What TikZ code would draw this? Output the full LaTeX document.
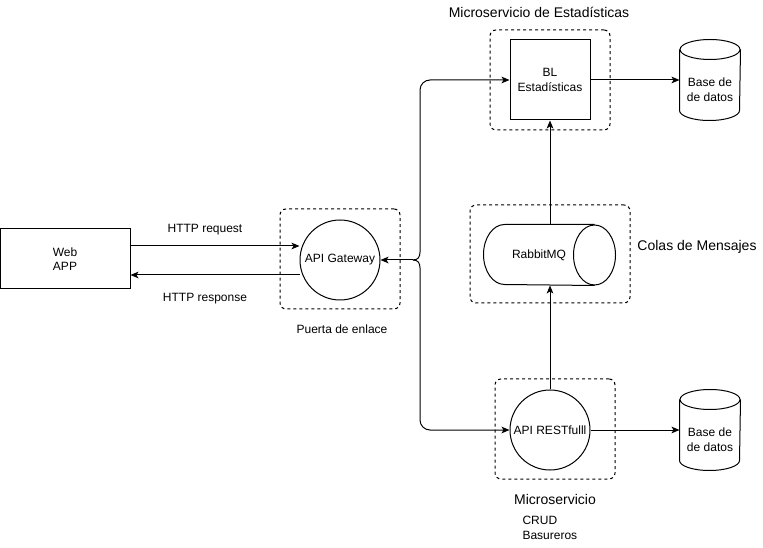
\documentclass[tikz,border=0pt]{standalone}
\usepackage{fontspec}
\setmainfont{Liberation Sans}
\usetikzlibrary{arrows.meta}
\tikzset{
  txt/.style={font=\fontsize{9}{11}\selectfont, align=center},
  title/.style={font=\fontsize{10.5}{12.6}\selectfont},
  box/.style={txt, draw, inner sep=0pt},
  shell/.style={txt, inner sep=0pt},
  group/.style={draw, dash pattern=on 2.25pt off 2.25pt, rounded corners=4.5pt, inner sep=0pt},
  conn/.style={-{Stealth[length=6pt,width=5pt,inset=1.5pt]}},
}
\begin{document}
\begin{tikzpicture}[x=0.75pt,y=-0.75pt,line width=0.75pt]
  \useasboundingbox (0,0) rectangle (763,548);
  % grupos
  \node[group, minimum width=90pt, minimum height=75pt] (gwg) at (340,259) {};
  \node[group, minimum width=90pt, minimum height=75pt] (stg) at (550,80) {};
  \node[group, minimum width=120pt, minimum height=73.5pt] (mqg) at (550,254) {};
  \node[group, minimum width=90pt, minimum height=75pt] (msg) at (555,429) {};
  % nodos
  \node[box, minimum width=97.5pt, minimum height=45pt] (web) at (65,259) {Web\\APP};
  \node[box, circle, minimum size=60pt] (gw) at (340,260) {API Gateway};
  \node[box, minimum size=60pt] (bl) at (550,80) {BL\\Estadísticas};
  \node[box, circle, minimum size=60pt] (api) at (550,430) {API RESTfulll};
  \node[shell, minimum width=82.5pt, minimum height=45pt] (mq) at (539,255) {RabbitMQ};
  \node[shell, minimum width=45pt, minimum height=45pt] (dbe) at (710,90) {Base de\\de datos};
  \node[shell, minimum width=45pt, minimum height=45pt] (dbc) at (710,440) {Base de\\de datos};
  \coordinate (fork) at (413,260);
  \coordinate (rq) at ([yshift=9.75pt]web.east);
  \coordinate (rs) at ([yshift=-12pt]web.east);
  % cilindros
  \draw ([xshift=15.75pt]mq.north west) -- (mq.north east)
    ([xshift=15.75pt]mq.north west) arc[start angle=90, end angle=270, x radius=15.75pt, y radius=22.5pt] -- (mq.south east);
  \draw (mq.east) ellipse[x radius=15.75pt, y radius=22.5pt];
  \foreach \n in {dbe,dbc}{
    \draw ([yshift=7.5pt]\n.north) ellipse[x radius=22.5pt, y radius=7.5pt];
    \draw ([yshift=7.5pt]\n.north west) -- ([yshift=7.5pt]\n.south west)
      arc[start angle=180, end angle=360, x radius=22.5pt, y radius=7.5pt] -- ([yshift=7.5pt]\n.north east);
  }
  % textos
  \node[txt] (req) at (205,230) {HTTP request};
  \node[txt] (resp) at (205,299) {HTTP response};
  \node[txt] (pe) at (342,329) {Puerta de enlace};
  \node[title] (tst) at (539,12) {Microservicio de Estadísticas};
  \node[title] (tmq) at (697,247) {Colas de Mensajes};
  \node[title] (tms) at (555,499) {Microservicio};
  \node[txt, align=left, anchor=west, inner sep=0pt] (crud) at (522,528) {CRUD\\Basureros};
  % conectores
  \begin{scope}[conn]
    \draw (rq) to (rq -| gw.west);
    \draw (rs -| gw.west) to (rs);
    \draw (fork) to (gw.east);
    \draw (fork) .. controls (418,260) and (420,257) .. (420,252) [rounded corners=7.5pt] |- (bl.west);
    \draw (fork) .. controls (418,260) and (420,263) .. (420,268) [rounded corners=7.5pt] |- (api.west);
    \draw (bl.east) to (bl.east -| dbe.west);
    \draw (api.east) to (api.east -| dbc.west);
    \draw ([xshift=8.25pt]mq.north) to (bl.south);
    \draw (api.north) to ([xshift=8.25pt]mq.south);
  \end{scope}
\end{tikzpicture}
\end{document}
